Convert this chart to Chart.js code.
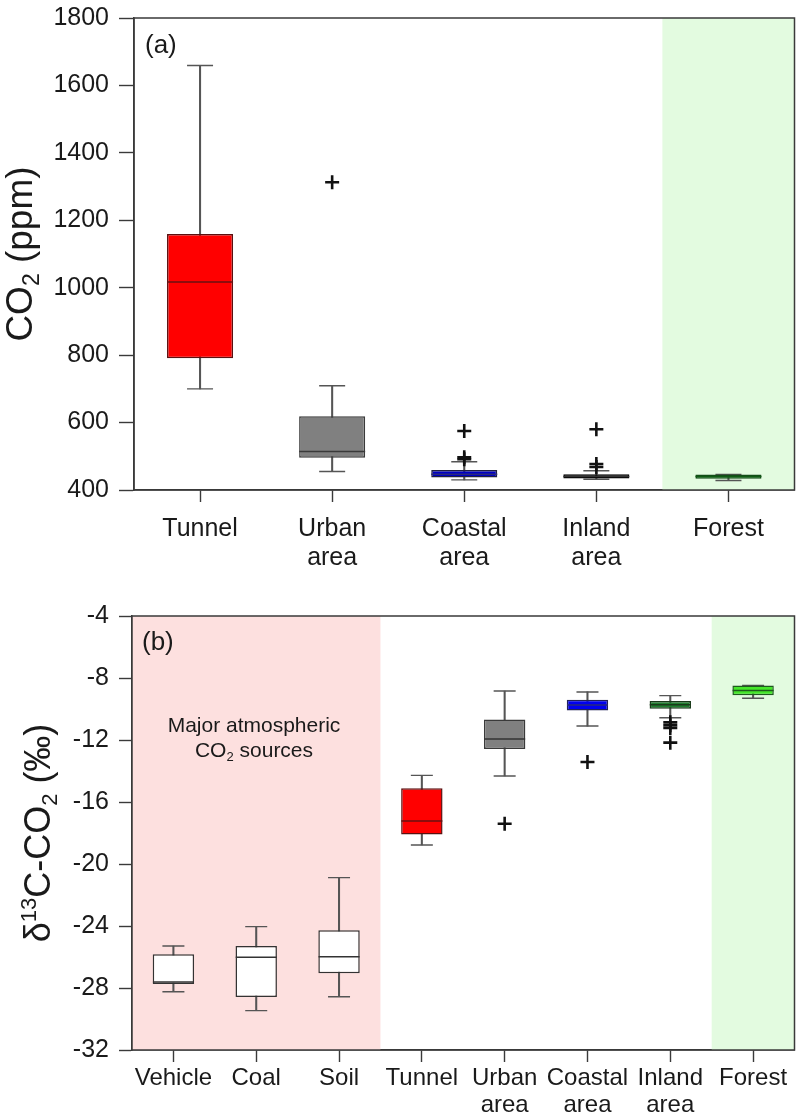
<!DOCTYPE html>
<html><head><meta charset="utf-8">
<script src="https://cdn.jsdelivr.net/npm/chart.js@4.4.1/dist/chart.umd.min.js"></script>
<style>
html,body{margin:0;padding:0;background:#fff;}
#wa{position:absolute;left:0;top:0;width:799px;height:575px;}
#wb{position:absolute;left:0;top:580px;width:799px;height:536px;}
</style></head><body>
<div id="wa"><canvas id="ca"></canvas></div>
<div id="wb"><canvas id="cb"></canvas></div>
<script>
// ---------- Panel (a) data ----------
const catsA   = ['Tunnel','Urban area','Coastal area','Inland area','Forest'];
const minA    = [700, 455, 430, 432, 428];
const q1A     = [791, 496, 437, 434, 433];
const medA    = [1017, 514, 447, 440, 440];
const q3A     = [1159, 619, 459, 447, 446];
const maxA    = [1659, 709, 484, 457, 446];
const outA    = [[], [1313], [491, 497, 575], [468, 477, 580], []];
const yTicksA = [400, 600, 800, 1000, 1200, 1400, 1600, 1800];

// ---------- Panel (b) data ----------
const catsB   = ['Vehicle','Coal','Soil','Tunnel','Urban area','Coastal area','Inland area','Forest'];
const minB    = [-28.24, -29.46, -28.56, -18.77, -14.32, -11.10, -10.56, -9.31];
const q1B     = [-27.74, -28.58, -27.05, -18.09, -12.58, -10.09, -9.98, -9.12];
const medB    = [-27.61, -26.02, -25.98, -17.23, -11.94, -9.74, -9.72, -8.80];
const q3B     = [-25.83, -25.29, -24.28, -15.12, -10.67, -9.40, -9.48, -8.48];
const maxB    = [-25.29, -24.04, -20.88, -14.28, -8.84, -8.90, -9.14, -8.48];
const outB    = [[], [], [], [], [-17.4], [-13.42], [-10.86, -11.05, -11.22, -12.17], []];
const yTicksB = [-32, -28, -24, -20, -16, -12, -8, -4];

const FONT = "'Liberation Sans', Arial, Helvetica, sans-serif";
const AXC = '#3a3a3a';

function zeroPad(s) { s.paddingLeft = 0; s.paddingRight = 0; s.paddingTop = 0; s.paddingBottom = 0; }

function boxChart(canvasId, o) {
  const cats = o.cats;
  const lines = cats.map(c => c.includes(' ') ? c.split(' ') : c);
  const datasets = [
    { type: 'bar', data: cats.map((c, i) => [o.min[i], o.max[i]]), backgroundColor: '#555',
      barThickness: 1.4, grouped: false, order: 5 },
    { type: 'line', showLine: false, order: 4,
      data: cats.flatMap((c, i) => [{x: c, y: o.min[i]}, {x: c, y: o.max[i]}]),
      pointStyle: 'line', pointRadius: o.capR, pointHoverRadius: o.capR,
      pointBorderColor: '#555', pointBorderWidth: 1.4 },
    { type: 'bar', data: cats.map((c, i) => [o.q1[i], o.q3[i]]), backgroundColor: o.fill,
      borderColor: o.edge, borderWidth: 1.5, borderSkipped: false,
      barPercentage: 0.5, categoryPercentage: 1, grouped: false, order: 3 },
    { type: 'line', showLine: false, order: 2,
      data: cats.map((c, i) => ({x: c, y: o.med[i]})),
      pointStyle: 'line', pointRadius: o.medR, pointHoverRadius: o.medR,
      pointBorderColor: o.medC, pointBorderWidth: 1.5 },
    { type: 'line', showLine: false, order: 1,
      data: cats.flatMap((c, i) => o.out[i].map(v => ({x: c, y: v}))),
      pointStyle: 'cross', pointRadius: 7, pointHoverRadius: 7,
      pointBorderColor: '#111', pointBorderWidth: 2.6 }
  ];

  const deco = {
    id: 'deco' + canvasId,
    beforeDatasetsDraw(chart) {
      const {ctx, chartArea: a, scales: {x}} = chart;
      ctx.save();
      o.bands.forEach(b => {
        const l = b.from === 0 ? a.left : (x.getPixelForValue(b.from - 1) + x.getPixelForValue(b.from)) / 2;
        const r = b.to === cats.length - 1 ? a.right : (x.getPixelForValue(b.to) + x.getPixelForValue(b.to + 1)) / 2;
        ctx.fillStyle = b.color;
        ctx.fillRect(l, a.top, r - l, a.bottom - a.top);
      });
      ctx.restore();
    },
    afterDatasetsDraw(chart) {
      const {ctx, chartArea: a} = chart;
      ctx.save();
      ctx.strokeStyle = AXC; ctx.lineWidth = 1.5;
      ctx.strokeRect(a.left, a.top, a.right - a.left, a.bottom - a.top);
      ctx.restore();
    },
    afterDraw(chart) {
      const {ctx, chartArea: a} = chart;
      ctx.save();
      ctx.fillStyle = '#1a1a1a';
      ctx.font = o.letterSize + 'px ' + FONT;
      ctx.textBaseline = 'alphabetic'; ctx.textAlign = 'left';
      ctx.fillText(o.letter, a.left + o.letterDx, a.top + o.letterDy);
      if (o.note) o.note(ctx, a);
      const cy = (a.top + a.bottom) / 2;
      ctx.translate(o.titleX, cy);
      ctx.rotate(-Math.PI / 2);
      const S = o.titleSize;
      let total = 0;
      o.title.forEach(seg => { ctx.font = Math.round(S * (seg.s || 1)) + 'px ' + FONT; seg.w = ctx.measureText(seg.t).width; total += seg.w; });
      let xx = -total / 2;
      o.title.forEach(seg => {
        ctx.font = Math.round(S * (seg.s || 1)) + 'px ' + FONT;
        ctx.fillText(seg.t, xx, (seg.dy || 0) * S);
        xx += seg.w;
      });
      ctx.restore();
    }
  };

  return new Chart(document.getElementById(canvasId), {
    type: 'bar',
    data: { labels: cats, datasets },
    options: {
      responsive: true, maintainAspectRatio: false, animation: false,
      layout: { autoPadding: false, padding: { top: o.padTop, right: 4.5, left: 0, bottom: 0 } },
      plugins: { legend: { display: false }, tooltip: { enabled: false } },
      scales: {
        x: {
          type: 'category', offset: true,
          grid: { offset: false, drawOnChartArea: false, drawTicks: true, tickLength: 12, tickColor: AXC, tickWidth: 1.4 },
          border: { display: true, color: AXC, width: 1.5 },
          ticks: { autoSkip: false, maxRotation: 0, minRotation: 0, color: '#1a1a1a', padding: o.xPad,
                   font: { family: FONT, size: o.xFont, lineHeight: o.xLH },
                   callback: (v, i) => lines[i] },
          afterFit: s => { s.height = o.xH; zeroPad(s); }
        },
        y: {
          min: o.yTicks[0], max: o.yTicks[o.yTicks.length - 1],
          afterBuildTicks: s => { s.ticks = o.yTicks.map(v => ({ value: v })); },
          grid: { drawOnChartArea: false, drawTicks: true, tickLength: o.yTL, tickColor: AXC, tickWidth: 1.4 },
          border: { display: true, color: AXC, width: 1.5 },
          ticks: { color: '#1a1a1a', padding: 10, font: { family: FONT, size: o.yFont },
                   callback: v => String(v) },
          afterFit: s => { s.width = o.yW; zeroPad(s); }
        }
      }
    },
    plugins: [deco]
  });
}

boxChart('ca', {
  cats: catsA, min: minA, q1: q1A, med: medA, q3: q3A, max: maxA, out: outA, yTicks: yTicksA,
  fill: ['#ff0000', '#808080', '#0000c4', '#111111', '#1b8c22'],
  edge: ['#5a1010', '#3a3a3a', '#202040', '#000000', '#154a18'],
  medC: ['#6a1010', '#3a3a3a', '#2a2a7a', '#333333', '#0f5a14'],
  capR: 13, medR: 33,
  bands: [{ from: 4, to: 4, color: '#e3fbe0' }],
  padTop: 18, xH: 85, yW: 134, yTL: 15, yFont: 25, xFont: 25, xLH: 1.16, xPad: 13,
  letter: '(a)', letterSize: 26, letterDx: 11, letterDy: 35,
  titleX: 32, titleSize: 37,
  title: [{ t: 'CO' }, { t: '2', s: 0.62, dy: 0.2 }, { t: ' (ppm)' }]
});

boxChart('cb', {
  cats: catsB, min: minB, q1: q1B, med: medB, q3: q3B, max: maxB, out: outB, yTicks: yTicksB,
  fill: ['#ffffff', '#ffffff', '#ffffff', '#ff0000', '#808080', '#0000ee', '#1f7f2e', '#45e62a'],
  edge: ['#333333', '#333333', '#333333', '#5a1010', '#3a3a3a', '#20205a', '#1a3a1a', '#1e5a1e'],
  medC: ['#333333', '#333333', '#333333', '#6a1010', '#333333', '#2a2a7a', '#1a3a1a', '#1e5a1e'],
  capR: 11, medR: 20.5,
  bands: [{ from: 0, to: 2, color: '#fde0df' }, { from: 7, to: 7, color: '#e3fbe0' }],
  padTop: 36, xH: 66, yW: 132, yTL: 13, yFont: 25, xFont: 24, xLH: 1.12, xPad: 3,
  letter: '(b)', letterSize: 26, letterDx: 10, letterDy: 34,
  titleX: 50, titleSize: 36,
  title: [{ t: 'δ' }, { t: '13', s: 0.62, dy: -0.4 }, { t: 'C-CO' }, { t: '2', s: 0.62, dy: 0.2 }, { t: ' (‰)' }],
  note: (ctx, a) => {
    const cx = a.left + 122;
    ctx.font = '21px ' + FONT; ctx.textAlign = 'center';
    ctx.fillText('Major atmospheric', cx, a.top + 116);
    const s1 = 'CO', s2 = '2', s3 = ' sources';
    const w1 = ctx.measureText(s1).width, w3 = ctx.measureText(s3).width;
    ctx.font = '13px ' + FONT; const w2 = ctx.measureText(s2).width;
    let x0 = cx - (w1 + w2 + w3) / 2;
    ctx.textAlign = 'left';
    ctx.font = '21px ' + FONT; ctx.fillText(s1, x0, a.top + 141); x0 += w1;
    ctx.font = '13px ' + FONT; ctx.fillText(s2, x0, a.top + 145); x0 += w2;
    ctx.font = '21px ' + FONT; ctx.fillText(s3, x0, a.top + 141);
  }
});
</script>
</body></html>
